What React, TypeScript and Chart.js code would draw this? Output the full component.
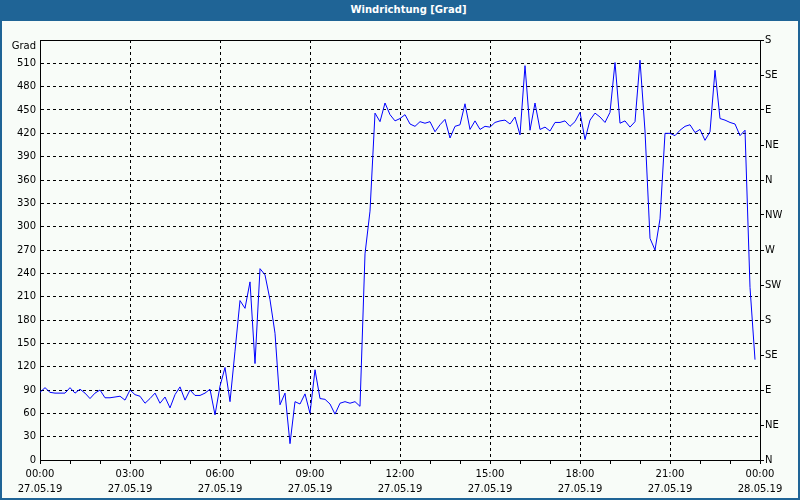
import React, { useEffect, useRef } from "react";
import { Chart, registerables } from "chart.js";

Chart.register(...registerables);

const chartTitle = "Windrichtung [Grad]";
const unitLabel = "Grad";
const timeLabels = ["00:00", "03:00", "06:00", "09:00", "12:00", "15:00", "18:00", "21:00", "00:00"];
const dateLabels = ["27.05.19", "27.05.19", "27.05.19", "27.05.19", "27.05.19", "27.05.19", "27.05.19", "27.05.19", "28.05.19"];
const degreeTickLabels = ["0", "30", "60", "90", "120", "150", "180", "210", "240", "270", "300", "330", "360", "390", "420", "450", "480", "510", ""];
const compassLabels = ["N", "NE", "E", "SE", "S", "SW", "W", "NW", "N", "NE", "E", "SE", "S"];
const sampleMinutes = 10;

// wind direction every 10 minutes from 00:00 to 23:50
const windDirection = [
  87, 93, 87, 86, 86, 86, 93, 86, 91, 86,
  79, 86, 90, 80, 80, 81, 82, 77, 90, 84,
  82, 73, 79, 86, 73, 81, 67, 84, 94, 77,
  90, 83, 83, 86, 91, 58, 95, 119, 75, 140,
  205, 195, 229, 124, 246, 238, 206, 163, 71, 86,
  21, 75, 72, 85, 60, 116, 79, 78, 72, 59,
  73, 75, 73, 75, 69, 265, 320, 446, 435, 459,
  444, 436, 439, 444, 432, 429, 435, 433, 435, 422,
  431, 438, 414, 429, 431, 458, 425, 436, 425, 429,
  428, 434, 436, 437, 432, 441, 418, 507, 424, 459,
  425, 428, 423, 434, 434, 436, 429, 435, 447, 412,
  437, 446, 441, 434, 447, 511, 433, 436, 428, 435,
  514, 423, 285, 270, 310, 420, 420, 417, 424, 429,
  431, 421, 425, 411, 422, 501, 439, 437, 434, 432,
  417, 424, 222, 129,
];

const FONT = "'DejaVu Sans', sans-serif";
const transparent = "rgba(0,0,0,0)";

const unitLabelPlugin = {
  id: "unitLabel",
  afterDraw(chart: any) {
    const { ctx, chartArea } = chart;
    ctx.save();
    ctx.font = `10px ${FONT}`;
    ctx.fillStyle = "#000";
    ctx.textAlign = "right";
    ctx.textBaseline = "middle";
    ctx.fillText(unitLabel, chartArea.left - 4, chartArea.top + 6);
    ctx.restore();
  },
};

export default function App() {
  const canvasRef = useRef<HTMLCanvasElement | null>(null);

  useEffect(() => {
    const canvas = canvasRef.current;
    if (!canvas) return;
    Chart.defaults.font.family = FONT;
    Chart.defaults.font.size = 10;
    Chart.defaults.color = "#000";

    const points = windDirection.map((v, i) => ({ x: i * sampleMinutes, y: v }));

    const chart = new Chart(canvas, {
      type: "line",
      data: {
        datasets: [
          {
            data: points,
            borderColor: "#0000ff",
            borderWidth: 1,
            pointRadius: 0,
            tension: 0,
            fill: false,
          },
        ],
      },
      plugins: [unitLabelPlugin],
      options: {
        responsive: false,
        animation: false,
        devicePixelRatio: 1,
        layout: { padding: 0 },
        plugins: { legend: { display: false }, tooltip: { enabled: false }, title: { display: false } },
        scales: {
          x: {
            type: "linear",
            position: "bottom",
            min: 0,
            max: 1440,
            afterFit: (s: any) => { s.height = 38; },
            ticks: {
              stepSize: 60,
              autoSkip: false,
              maxRotation: 0,
              minRotation: 0,
              padding: 3,
              font: { size: 10, lineHeight: 1.5 },
              callback: (value: any) => {
                const v = Number(value);
                if (v % 180 !== 0) return "";
                const k = v / 180;
                return [timeLabels[k], dateLabels[k]];
              },
            },
            grid: {
              drawOnChartArea: true,
              drawTicks: true,
              tickLength: 4,
              tickColor: "#000",
              tickBorderDash: [],
              lineWidth: 1,
              color: (ctx: any) => {
                const v = ctx.tick ? ctx.tick.value : -1;
                return v % 180 === 0 && v > 0 && v < 1440 ? "#000" : transparent;
              },
            },
            border: { display: true, color: "#000", width: 1, dash: [3, 3] },
          },
          x2: {
            type: "linear",
            position: "top",
            min: 0,
            max: 1,
            afterFit: (s: any) => { s.height = 19; },
            ticks: { display: false },
            grid: { display: false, drawTicks: false },
            border: { display: true, color: "#000", width: 1 },
          },
          y: {
            type: "linear",
            position: "left",
            min: 0,
            max: 540,
            afterFit: (s: any) => { s.width = 38; },
            ticks: {
              stepSize: 30,
              autoSkip: false,
              padding: 4,
              font: { size: 10 },
              callback: (value: any) => degreeTickLabels[Math.round(Number(value) / 30)] ?? "",
            },
            grid: {
              drawTicks: false,
              lineWidth: 1,
              color: (ctx: any) => {
                const v = ctx.tick ? ctx.tick.value : -1;
                return v > 0 && v < 540 ? "#000" : transparent;
              },
            },
            border: { display: true, color: "#000", width: 1, dash: [3, 3] },
          },
          y2: {
            type: "linear",
            position: "right",
            min: 0,
            max: 540,
            afterFit: (s: any) => { s.width = 38; },
            ticks: {
              stepSize: 45,
              autoSkip: false,
              padding: 1,
              font: { size: 10 },
              callback: (value: any) => compassLabels[Math.round(Number(value) / 45)] ?? "",
            },
            grid: {
              drawOnChartArea: false,
              drawTicks: true,
              tickLength: 4,
              tickColor: "#000",
            },
            border: { display: true, color: "#000", width: 1 },
          },
        },
      },
    } as any);

    return () => chart.destroy();
  }, []);

  return (
    <div
      style={{
        position: "fixed",
        left: 0,
        top: 0,
        width: 800,
        height: 500,
        background: "#1f6496",
        overflow: "hidden",
      }}
    >
      <div
        style={{
          position: "absolute",
          left: 0,
          top: 0,
          width: 800,
          height: 21,
          lineHeight: "20px",
          paddingLeft: 17,
          boxSizing: "border-box",
          color: "#fff",
          textAlign: "center",
          fontFamily: FONT,
          fontWeight: "bold",
          fontSize: 10,
        }}
      >
        {chartTitle}
      </div>
      <div
        style={{
          position: "absolute",
          left: 2,
          top: 21,
          width: 796,
          height: 477,
          background: "#f8fcf8",
        }}
      >
        <canvas ref={canvasRef} width={796} height={477} style={{ display: "block" }} />
      </div>
    </div>
  );
}
